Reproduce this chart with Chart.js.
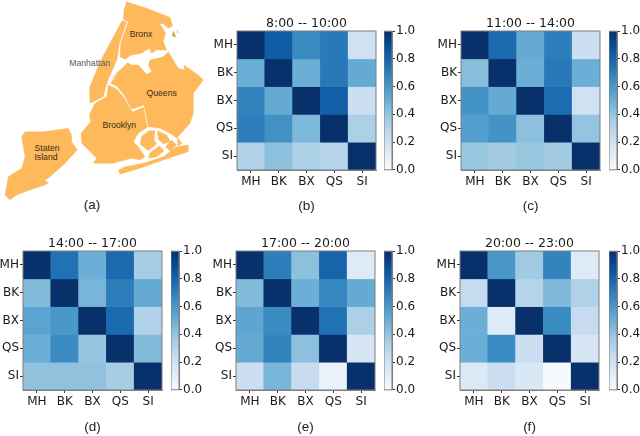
<!DOCTYPE html>
<html>
<head>
<meta charset="utf-8">
<title>Borough flow matrices</title>
<script src="https://cdn.jsdelivr.net/npm/chart.js@4/dist/chart.umd.js"></script>
<style>
  html, body { margin: 0; padding: 0; background: #fff; }
  body { position: relative; width: 640px; height: 436px; overflow: hidden; }
  canvas { position: absolute; }
  #map { position: absolute; left: 0; top: 0; }
  #map text { font-family: "Liberation Sans", sans-serif; }
</style>
</head>
<body>
<!-- borough map, not data: outlines traced by hand -->
<svg id="map" width="210" height="220" viewBox="0 0 630 660">
  <g fill="#fdb95c" stroke="#fdb95c" stroke-width="1" stroke-linejoin="round">
    <path d="M380 5L440 25L510 52L518 78L505 85L487 70L480 72L497 100L490 125L500 150L470 150L455 160L448 145L425 160L395 165L375 178L360 170L362 130L385 65L370 58L372 30Z"/>
    <path d="M366 62L380 66L358 130L352 175L342 200L325 238L315 270L310 290L270 310L268 265L300 185L335 120Z"/>
    <path d="M332 250L352 260L372 285L395 328L432 315L445 380L480 385L510 400L530 415L570 370L580 340L580 280L610 240L595 225L552 195L553 210L535 205L505 155L490 170L450 180L445 195L455 215L440 223L415 195L395 195L383 188L355 215L335 245Z"/>
    <path d="M325 255L320 290L285 310L268 345L272 365L243 400L245 430L290 475L280 490L340 490L395 475L420 480L435 470L415 440L400 425L415 400L442 382L430 322L397 336L370 290L350 267Z"/>
    <path d="M355 510L375 500L430 490L490 470L530 440L565 435L565 455L535 465L490 480L420 505L360 523Z"/>
    <path d="M75 395L130 395L205 385L215 405L215 425L232 450L190 495L150 530L135 540L145 550L135 555L90 570L50 585L30 600L15 585L25 530L65 505L75 470L70 440L65 410Z"/>
    <path d="M425 408L448 392L465 392L462 420L470 432L445 452L420 432Z"/>
    <path d="M472 392L500 405L512 425L490 432L475 418Z"/>
    <path d="M515 420L530 435L512 455L497 440Z"/>
    <path d="M450 458L478 438L492 452L470 470L445 475Z"/>
    <path d="M532 412L546 430L534 438Z"/>
  </g>
  <path d="M520 92L528 112L516 108Z" fill="#c9a227"/>
  <path d="M532 86L535 100L530 98Z" fill="#e3c04a"/>
  <path d="M358 210L335 235" stroke="#a8c88a" stroke-width="2" fill="none"/>
  <g font-size="26" fill="#3a2c14" text-anchor="middle">
    <text x="423" y="110">Bronx</text>
    <text x="485" y="288">Queens</text>
    <text x="358" y="384">Brooklyn</text>
    <text x="141" y="453">Staten</text>
    <text x="138" y="479">Island</text>
    <text x="269" y="199" fill="#5a5a5a">Manhattan</text>
  </g>
  <text x="276" y="627" font-size="40" fill="#222" text-anchor="middle">(a)</text>
</svg>

<script>
const boroughs = ['MH', 'BK', 'BX', 'QS', 'SI'];
const colorbarTicks = [0, 0.2, 0.4, 0.6, 0.8, 1];

const titleB = '8:00 -- 10:00';
const valuesB = [
  [1.00, 0.83, 0.65, 0.72, 0.20],
  [0.50, 1.00, 0.50, 0.72, 0.52],
  [0.68, 0.52, 1.00, 0.82, 0.22],
  [0.70, 0.63, 0.45, 1.00, 0.33],
  [0.32, 0.42, 0.33, 0.30, 1.00]
];
const titleC = '11:00 -- 14:00';
const valuesC = [
  [1.00, 0.78, 0.52, 0.70, 0.22],
  [0.43, 1.00, 0.50, 0.72, 0.50],
  [0.62, 0.52, 1.00, 0.77, 0.20],
  [0.57, 0.62, 0.42, 1.00, 0.40],
  [0.39, 0.36, 0.39, 0.36, 1.00]
];
const titleD = '14:00 -- 17:00';
const valuesD = [
  [1.00, 0.75, 0.50, 0.78, 0.35],
  [0.44, 1.00, 0.47, 0.70, 0.52],
  [0.55, 0.60, 1.00, 0.78, 0.32],
  [0.50, 0.65, 0.40, 1.00, 0.44],
  [0.41, 0.41, 0.41, 0.35, 1.00]
];
const titleE = '17:00 -- 20:00';
const valuesE = [
  [1.00, 0.70, 0.42, 0.80, 0.13],
  [0.44, 1.00, 0.50, 0.67, 0.52],
  [0.54, 0.65, 1.00, 0.75, 0.33],
  [0.52, 0.68, 0.42, 1.00, 0.17],
  [0.22, 0.47, 0.24, 0.07, 1.00]
];
const titleF = '20:00 -- 23:00';
const valuesF = [
  [1.00, 0.60, 0.37, 0.68, 0.13],
  [0.25, 1.00, 0.30, 0.45, 0.32],
  [0.50, 0.13, 1.00, 0.65, 0.25],
  [0.50, 0.65, 0.22, 1.00, 0.17],
  [0.14, 0.23, 0.15, 0.01, 1.00]
];

// matplotlib Blues
const blues = ['#f7fbff', '#deebf7', '#c6dbef', '#9ecae1', '#6baed6', '#4292c6', '#2171b5', '#08519c', '#08306b'];
function hex(c) { return [1, 3, 5].map(i => parseInt(c.slice(i, i + 2), 16)); }
function bluesColor(v) {
  const p = Math.min(v, 1) * (blues.length - 1);
  const i = Math.min(Math.floor(p), blues.length - 2);
  const a = hex(blues[i]), b = hex(blues[i + 1]);
  const rgb = a.map((x, k) => Math.round(x + (b[k] - x) * (p - i)));
  return `rgb(${rgb.join(',')})`;
}

const tickFont = { family: 'DejaVu Sans', size: 12 };
const inkColor = '#1a1a1a';
const spineColor = '#7f7f7f';

// the top and right spines
const frame = {
  id: 'frame',
  afterDraw(chart) {
    const { ctx, chartArea: a } = chart;
    ctx.save();
    ctx.strokeStyle = spineColor;
    ctx.lineWidth = 1;
    ctx.strokeRect(a.left, a.top, a.right - a.left, a.bottom - a.top);
    ctx.restore();
  }
};

function addCanvas(left, top, width, height) {
  const c = document.createElement('canvas');
  c.width = width;
  c.height = height;
  c.style.left = left + 'px';
  c.style.top = top + 'px';
  document.body.appendChild(c);
  return c.getContext('2d');
}

function heatmap(title, caption, values, left, top, xAxisHeight) {
  const yAxisWidth = 30, side = 139, titleHeight = 15;
  const ctx = addCanvas(left - yAxisWidth, top - titleHeight, yAxisWidth + side + 2, titleHeight + side + xAxisHeight);
  new Chart(ctx, {
    type: 'bar',
    data: {
      labels: boroughs,
      datasets: values.map((row, r) => ({
        data: row.map(() => [r, r + 1]),
        backgroundColor: row.map(bluesColor),
        borderWidth: 0,
        grouped: false,
        barPercentage: 1,
        categoryPercentage: 1
      }))
    },
    options: {
      responsive: false,
      animation: false,
      devicePixelRatio: 1,
      layout: { padding: { right: 2 } },
      plugins: {
        legend: { display: false },
        tooltip: { enabled: false },
        title: {
          display: true,
          text: title,
          fullSize: false,
          color: inkColor,
          font: { family: 'DejaVu Sans', size: 12.5, weight: 'normal', lineHeight: 1.2 },
          padding: { top: 0, bottom: 0 }
        }
      },
      scales: {
        x: {
          grid: { drawOnChartArea: false, offset: false, tickLength: 3, tickColor: '#333' },
          border: { color: spineColor },
          ticks: { color: inkColor, font: tickFont, padding: 2, maxRotation: 0 },
          title: {
            display: true,
            text: caption,
            color: '#222',
            font: { family: 'Liberation Sans', size: 13.5 },
            padding: { top: 0, bottom: 2 }
          },
          afterFit(scale) { scale.height = xAxisHeight; }
        },
        y: {
          reverse: true,
          min: 0,
          max: 5,
          grid: { drawOnChartArea: false, tickLength: 3, tickColor: '#333' },
          border: { color: spineColor },
          afterBuildTicks(scale) { scale.ticks = boroughs.map((_, i) => ({ value: i + 0.5 })); },
          ticks: {
            color: inkColor,
            font: tickFont,
            padding: 1,
            autoSkip: false,
            callback: (_, i) => boroughs[i]
          },
          afterFit(scale) { scale.width = yAxisWidth; }
        }
      }
    },
    plugins: [frame]
  });
}

function colorbar(left, top) {
  const pad = 8, barWidth = 8, side = 139;
  const ctx = addCanvas(left, top - pad, 48, side + pad * 2);
  new Chart(ctx, {
    type: 'bar',
    data: {
      labels: [''],
      datasets: [{
        data: [[0, 1]],
        borderWidth: 0,
        barPercentage: 1,
        categoryPercentage: 1,
        backgroundColor(c) {
          const area = c.chart.chartArea;
          if (!area) return blues[4];
          const g = c.chart.ctx.createLinearGradient(0, area.bottom, 0, area.top);
          blues.forEach((col, i) => g.addColorStop(i / (blues.length - 1), col));
          return g;
        }
      }]
    },
    options: {
      responsive: false,
      animation: false,
      devicePixelRatio: 1,
      layout: { padding: { top: pad, bottom: pad } },
      plugins: { legend: { display: false }, tooltip: { enabled: false } },
      scales: {
        x: { display: false },
        y: {
          position: 'right',
          min: 0,
          max: 1,
          grid: { drawOnChartArea: false, tickLength: 3, tickColor: '#333' },
          border: { color: spineColor },
          afterBuildTicks(scale) { scale.ticks = colorbarTicks.map(v => ({ value: v })); },
          ticks: { color: inkColor, font: tickFont, padding: 1, callback: v => v.toFixed(1) },
          afterFit(scale) { scale.width = 48 - barWidth; }
        }
      }
    },
    plugins: [frame]
  });
}

heatmap(titleB, '(b)', valuesB, 237, 31, 46);
colorbar(384, 31);
heatmap(titleC, '(c)', valuesC, 461, 31, 46);
colorbar(609, 31);
heatmap(titleD, '(d)', valuesD, 23, 251, 47);
colorbar(171, 251);
heatmap(titleE, '(e)', valuesE, 236, 251, 47);
colorbar(384, 251);
heatmap(titleF, '(f)', valuesF, 460, 251, 47);
colorbar(609, 251);
</script>
</body>
</html>
